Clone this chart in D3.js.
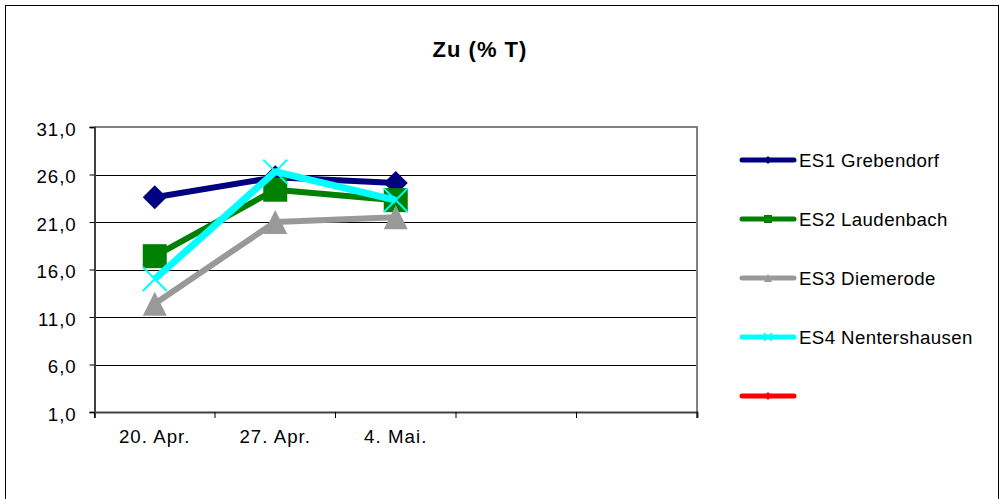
<!DOCTYPE html>
<html><head><meta charset="utf-8">
<script src="https://cdn.jsdelivr.net/npm/d3@7"></script>
<style>
html,body{margin:0;padding:0;background:#fff;}
svg{display:block;font-family:"Liberation Sans",Arial,sans-serif;}
</style></head>
<body>
<svg id="c" width="1004" height="499"></svg>
<script>
// ---- data ----
const title = "Zu (% T)";
const categories = ["20. Apr.", "27. Apr.", "4. Mai.", "", ""];
const yTicks = [1, 6, 11, 16, 21, 26, 31];
const seriesNames = ["ES1 Grebendorf", "ES2 Laudenbach", "ES3 Diemerode", "ES4 Nentershausen", ""];
const es1 = [23.6, 25.7, 25.1];
const es2 = [17.4, 24.4, 23.3];
const es3 = [12.4, 21.0, 21.5];
const es4 = [15.0, 26.3, 23.3];
const es5 = [];
const seriesValues = [es1, es2, es3, es4, es5];
const seriesColors = ["#000080", "#008000", "#999999", "#00ffff", "#ff0000"];
const seriesMarkers = ["diamond", "square", "triangle", "x", "diamond"];

// ---- layout ----
const svg = d3.select("#c");
const L = 94.5, R = 697, T = 127, B = 412;

svg.append("rect").attr("x", 5.5).attr("y", 5.5).attr("width", 993).attr("height", 520)
  .attr("fill", "#fff").attr("stroke", "#000").attr("stroke-width", 1);

svg.append("text").attr("x", 480).attr("y", 57).attr("text-anchor", "middle")
  .attr("font-size", 22).attr("font-weight", "bold").attr("letter-spacing", 1)
  .text(title);

const x = d3.scaleBand().domain(d3.range(categories.length)).range([L, R]);
const y = d3.scaleLinear().domain([1, 31]).range([B, T]);

// gridlines
svg.append("g").selectAll("line").data(yTicks.slice(1, -1)).join("line")
  .attr("x1", L).attr("x2", R).attr("y1", d => Math.round(y(d)) + 0.5).attr("y2", d => Math.round(y(d)) + 0.5)
  .attr("stroke", "#000").attr("stroke-width", 1);

// plot frame (top & right)
svg.append("path").attr("d", `M${L},${T}H${R}V${B}`).attr("fill", "none")
  .attr("stroke", "#808080").attr("stroke-width", 2);

// y axis
const yAxis = d3.axisLeft(y).tickValues(yTicks).tickSize(5).tickPadding(13)
  .tickFormat(d => d3.format(".1f")(d).replace(".", ","));
const gy = svg.append("g").attr("transform", `translate(${L},0)`).call(yAxis);
gy.select(".domain").attr("stroke", "#404040").attr("stroke-width", 2);
gy.selectAll(".tick line").attr("stroke", "#000");
gy.selectAll(".tick text").attr("font-size", 18.67).attr("letter-spacing", 0.9)
  .attr("font-family", "Liberation Sans, Arial, sans-serif").attr("fill", "#000").attr("dy", "0.45em");

// x axis
const xAxis = d3.axisBottom(x).tickSize(6).tickPadding(12).tickFormat(i => categories[i]);
const gx = svg.append("g").attr("transform", `translate(0,${B})`).call(xAxis);
gx.select(".domain").attr("stroke", "#404040").attr("stroke-width", 2);
gx.selectAll(".tick line").remove();
gx.selectAll(".tk").data(d3.range(categories.length + 1)).join("line").attr("class", "tk")
  .attr("x1", i => i < categories.length ? x(i) : x(categories.length - 1) + x.bandwidth())
  .attr("x2", i => i < categories.length ? x(i) : x(categories.length - 1) + x.bandwidth())
  .attr("y1", 0).attr("y2", 6).attr("stroke", "#000");
gx.selectAll(".tick text").attr("font-size", 18.67).attr("letter-spacing", 1.05)
  .attr("font-family", "Liberation Sans, Arial, sans-serif").attr("fill", "#000").attr("dy", "0.68em");

// markers
function marker(g, type, color, s) {
  if (type === "diamond") {
    g.append("path").attr("d", `M0,${-s}L${s},0L0,${s}L${-s},0Z`).attr("fill", color);
  } else if (type === "square") {
    g.append("rect").attr("x", -s).attr("y", -s).attr("width", 2 * s).attr("height", 2 * s).attr("fill", color);
  } else if (type === "triangle") {
    g.append("path").attr("d", `M0,${-s}L${s},${s}L${-s},${s}Z`).attr("fill", color);
  } else if (type === "x") {
    g.append("path").attr("d", `M${-s},${-s}L${s},${s}M${s},${-s}L${-s},${s}`)
      .attr("stroke", color).attr("stroke-width", Math.max(1.5, s / 6)).attr("fill", "none");
  }
}

const line = d3.line().x((d, i) => x(i) + x.bandwidth() / 2).y(d => y(d));
seriesValues.forEach((vals, si) => {
  const g = svg.append("g");
  if (vals.length) {
    g.append("path").datum(vals).attr("d", line).attr("fill", "none")
      .attr("stroke", seriesColors[si]).attr("stroke-width", si === 3 ? 7 : 6)
      .attr("stroke-linejoin", "round");
    vals.forEach((v, i) => {
      const m = g.append("g").attr("transform", `translate(${x(i) + x.bandwidth() / 2},${y(v)})`);
      marker(m, seriesMarkers[si], seriesColors[si], 12);
    });
  }
});

// legend
const lg = svg.append("g");
seriesNames.forEach((name, i) => {
  const cy = 160 + i * 59;
  const row = lg.append("g").attr("transform", `translate(0,${cy})`);
  row.append("line").attr("x1", 742).attr("x2", 794).attr("y1", 0).attr("y2", 0)
    .attr("stroke", seriesColors[i]).attr("stroke-width", 5).attr("stroke-linecap", "round");
  const m = row.append("g").attr("transform", "translate(768,0)");
  marker(m, seriesMarkers[i], seriesColors[i], 4);
  row.append("text").attr("x", 799).attr("y", 6.5).attr("font-size", 18.67).attr("letter-spacing", 0.4)
    .text(name);
});
</script>
</body></html>
